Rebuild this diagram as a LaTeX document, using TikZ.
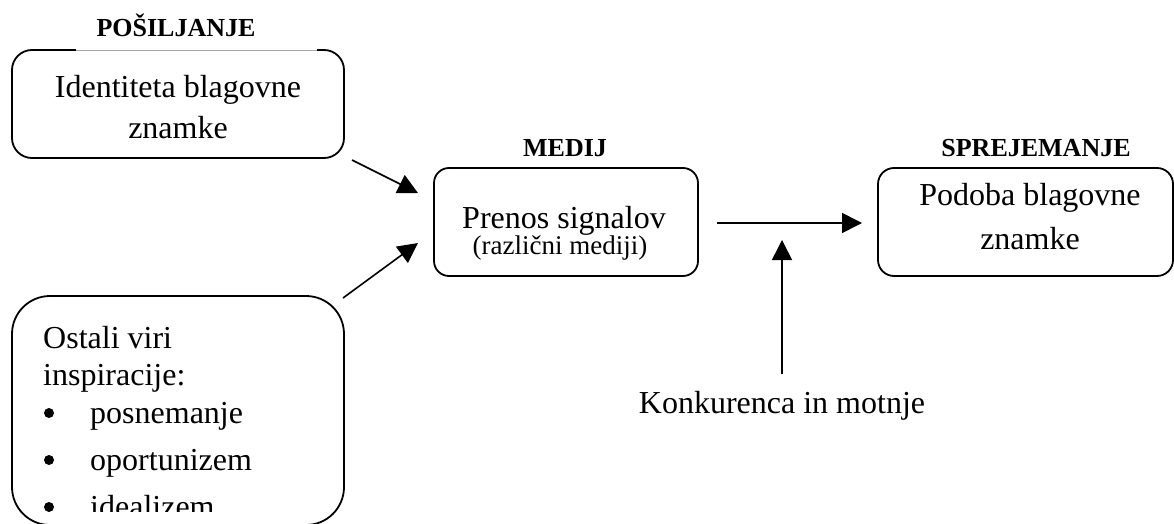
\documentclass[tikz,border=0pt]{standalone}
\usepackage{fontspec}
\setmainfont{Liberation Serif}
\usetikzlibrary{arrows.meta}
\tikzset{
  boxstyle/.style={draw, line width=1.8pt, inner sep=0pt},
  txt/.style={anchor=base, inner sep=0pt, font=\fontsize{32}{40}\selectfont},
  small/.style={anchor=base, inner sep=0pt, font=\fontsize{27}{32}\selectfont},
  head/.style={anchor=base, inner sep=0pt, font=\fontsize{26}{30}\selectfont\bfseries},
  bul/.style={circle, fill=black, inner sep=0pt, minimum size=10pt},
  arr/.style={line width=1.6pt, -{Triangle[length=20pt,width=20pt]}}
}
\begin{document}
\begin{tikzpicture}[x=1pt,y=-1pt]
\useasboundingbox (0,0) rectangle (1174,524);
% boxes
\node[boxstyle, rounded corners=20pt, minimum width=332pt, minimum height=108pt] (box1) at (178,104) {};
\node[boxstyle, rounded corners=15pt, minimum width=264pt, minimum height=108pt] (box2) at (566,222) {};
\node[boxstyle, rounded corners=16pt, minimum width=295pt, minimum height=108pt] (box3) at (1025.5,222) {};
\node[boxstyle, rounded corners=38pt, minimum width=332pt, minimum height=229pt] (box4) at (178,410.5) {};
% light top edge under heading of box1
\draw[white, line width=3pt] (76,50) -- (317,50);
\draw[black!35, line width=0.8pt] (76,50) -- (317,50);
% headings
\node[head] (h1) at (176,36.5) {POŠILJANJE};
\node[head] (h2) at (565,156) {MEDIJ};
\node[head] (h3) at (1036,156) {SPREJEMANJE};
% box texts
\node[txt] (t1a) at (178,98) {Identiteta blagovne};
\node[txt] (t1b) at (178,139) {znamke};
\node[txt] (t2a) at (564,228) {Prenos signalov};
\node[small] (t2b) at (560,254) {(različni mediji)};
\node[txt] (t3a) at (1030,205) {Podoba blagovne};
\node[txt] (t3b) at (1030,249) {znamke};
% list in box4, clipped
\begin{scope}
\clip (0,296) rectangle (360,511);
\node[txt, anchor=base west] (o1) at (43,348) {Ostali viri};
\node[txt, anchor=base west] (o2) at (43,385) {inspiracije:};
\node[bul] (b1) at (49,413) {};
\node[txt, anchor=base west] (l1) at (90,423) {posnemanje};
\node[bul] (b2) at (49,460) {};
\node[txt, anchor=base west] (l2) at (90,470) {oportunizem};
\node[bul] (b3) at (49,507) {};
\node[txt, anchor=base west] (l3) at (90,517) {idealizem};
\end{scope}
% bottom label
\node[txt] (k) at (782,413) {Konkurenca in motnje};
% connector endpoints
\coordinate (a1s) at (352,160);
\coordinate (a1e) at (418,193);
\coordinate (a2s) at (343,298);
\coordinate (a2e) at (418,243);
\coordinate (a3s) at (717,223);
\coordinate (a3e) at (862,223);
\coordinate (a4s) at (782,374);
\coordinate (a4e) at (782,240);
\draw[arr] (a1s) -- (a1e);
\draw[arr] (a2s) -- (a2e);
\draw[arr] (a3s) -- (a3e);
\draw[arr] (a4s) -- (a4e);
\end{tikzpicture}
\end{document}
